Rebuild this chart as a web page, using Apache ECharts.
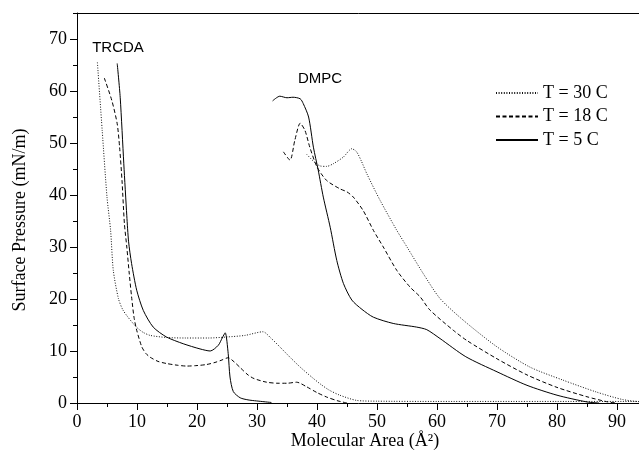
<!DOCTYPE html>
<html>
<head>
<meta charset="utf-8">
<script src="https://cdn.jsdelivr.net/npm/echarts@6/dist/echarts.min.js"></script>
<style>
  html, body { margin: 0; padding: 0; background: #fff; }
  #chart { width: 639px; height: 457px; }
</style>
</head>
<body>
<div id="chart"></div>
<script>
// isotherm data, [area, pressure]

const legendNames = ['T = 30 C', 'T = 18 C', 'T = 5 C']

const trcda30 = [[3.4,65.5],[4.2,52.4],[5.0,39.6],[5.6,33.2],[6.05,25.5],[6.9,20.1],[7.6,18],[8.5,16.5],[9.9,14.6],[11,13.6],[12.2,13.0],[14.9,12.6],[18,12.5],[22,12.5],[25,12.7],[28,13.0],[31,13.7],[32.3,12.5],[33.8,10.8],[35.5,8.8],[37.2,6.9],[39,5.1],[40.5,3.7],[42,2.5],[43.8,1.5],[46.6,0.5],[50,0.35],[60,0.3],[70,0.3],[80,0.3],[95,0.3]]
const trcda18 = [[4.55,62.5],[5.8,58.2],[6.7,53.7],[7.1,49.2],[7.5,42.8],[7.9,34.5],[8.3,30],[8.7,25],[9.1,20.4],[9.5,16.5],[9.95,14],[10.8,10.8],[11.5,9.5],[12.2,8.8],[13.5,8.0],[14.9,7.6],[16.5,7.3],[18.3,7.1],[20,7.2],[21.6,7.4],[23,7.8],[24,8.2],[25.2,8.7],[26.2,7.9],[27.2,6.8],[28.5,5.4],[29.5,4.7],[31.6,4.0],[33.5,3.8],[35,3.8],[36.6,4.0],[38.3,3.1],[40,2.0],[41.6,1.15],[43.5,0.4],[45,0]]
const trcda5 = [[6.7,65.3],[7.2,58.8],[7.8,46],[8.3,36],[8.6,31],[9.1,26.8],[9.95,21.7],[11.05,17.8],[12.7,14.6],[14.9,12.7],[17.7,11.4],[20.5,10.4],[22.2,10.0],[23.55,11.1],[24.2,12.5],[24.7,13.5],[25.2,9.5],[25.5,5.0],[26.05,2.2],[27.2,1.0],[28.5,0.6],[29.9,0.4],[32.4,0.1]]

const dmpc30 = [[38.3,47.8],[39.5,46.4],[40.5,45.6],[41.6,45.5],[42.7,46],[44.4,47.3],[45.8,48.9],[46.6,48.3],[47.4,46.5],[48.3,44.1],[50.5,39],[53.3,33.2],[55,30],[57.7,24.9],[60.5,20.1],[64.4,15.9],[70,10.8],[75.5,6.9],[81,4.4],[86.6,2.1],[91,0.65],[95,0.1]]
const dmpc18 = [[34.4,48.3],[35.5,46.7],[36.3,50.5],[37.2,53.8],[38,52.4],[38.8,49.2],[40,45.4],[41.6,42.8],[43.8,41.2],[45,40.6],[46.05,39.6],[47.7,37],[49.4,33.2],[51.05,30.0],[53.3,25.5],[55.5,22.3],[57.2,20.4],[58.8,17.9],[62.7,14],[65,12],[70,8.5],[75,5.4],[80,3.0],[85,1.2],[88.5,0.2],[90,0]]
const dmpc5 = [[32.6,58.1],[33.8,59.0],[35,58.7],[36,58.8],[37.2,58.5],[37.7,57.6],[38.6,55],[39.4,49.2],[40.2,44.8],[41.05,39.6],[42.2,33.8],[43.3,27.4],[44.4,23.0],[45.8,19.8],[47.5,18],[49.4,16.5],[52.7,15.3],[56.6,14.6],[58.3,14.1],[60.5,12.4],[64.8,8.9],[70,6.0],[75,3.4],[80,1.5],[85,0.2],[87,0]]

const yTicks = [0, 10, 20, 30, 40, 50, 60, 70]
const yMinorTicks = [5, 15, 25, 35, 45, 55, 65, 75]

const SERIF = '"Liberation Serif", "Times New Roman", serif'
const SANS = '"Liberation Sans", Arial, sans-serif'

const styles = {
  'T = 30 C': { color: '#111', width: 1, type: [1, 1.6] },
  'T = 18 C': { color: '#000', width: 1, type: [4, 2.5] },
  'T = 5 C':  { color: '#000', width: 1, type: 'solid' }
}

const makeSeries = (name, data) => ({
  name,
  type: 'line',
  data,
  symbol: 'none',
  smooth: 0.25,
  lineStyle: styles[name],
  itemStyle: { color: styles[name].color },
  animation: false,
  silent: true
})

const chart = echarts.init(document.getElementById('chart'))

chart.setOption({
  backgroundColor: '#fff',
  animation: false,
  grid: { left: 77, top: 13, width: 600, height: 390, outerBoundsMode: 'none', containLabel: false },
  legend: {
    data: legendNames,
    orient: 'vertical',
    left: 490,
    top: 79,
    itemWidth: 42,
    itemHeight: 14,
    itemGap: 5.5,
    itemStyle: { opacity: 0 },
    textStyle: { fontFamily: SERIF, fontSize: 18, color: '#000', lineHeight: 18 }
  },
  xAxis: [
    {
      type: 'value', min: 0, max: 100, interval: 10, position: 'bottom',
      axisLine: { onZero: false, lineStyle: { color: '#000', width: 1 } },
      axisTick: { inside: false, length: 7, lineStyle: { color: '#000' } },
      minorTick: { show: true, splitNumber: 2, length: 4, lineStyle: { color: '#000' } },
      axisLabel: { color: '#000', fontFamily: SERIF, fontSize: 18, margin: 10, showMaxLabel: false },
      splitLine: { show: false }
    },
    {
      type: 'value', min: 0, max: 100, position: 'top',
      axisLine: { onZero: false, lineStyle: { color: '#000', width: 1 } },
      axisTick: { show: false },
      axisLabel: { show: false },
      splitLine: { show: false }
    }
  ],
  yAxis: [
    {
      type: 'value', min: 0, max: 75, interval: 10, position: 'left',
      axisLine: { show: true, onZero: false, lineStyle: { color: '#000', width: 1 } },
      axisTick: { show: true, length: 7, customValues: yTicks, lineStyle: { color: '#000' } },
      axisLabel: { color: '#000', fontFamily: SERIF, fontSize: 18, margin: 10, customValues: yTicks },
      splitLine: { show: false }
    },
    {
      type: 'value', min: 0, max: 75, interval: 5, position: 'left',
      axisLine: { show: false, onZero: false },
      axisTick: { show: true, length: 4, customValues: yMinorTicks, lineStyle: { color: '#000' } },
      axisLabel: { show: false },
      splitLine: { show: false }
    }
  ],
  graphic: [
    { type: 'text', x: 118, y: 48, style: { text: 'TRCDA', font: '15px ' + SANS, fill: '#000', textAlign: 'center', textVerticalAlign: 'middle' } },
    { type: 'text', x: 320, y: 79, style: { text: 'DMPC', font: '15px ' + SANS, fill: '#000', textAlign: 'center', textVerticalAlign: 'middle' } },
    { type: 'text', x: 365, y: 441, style: { text: 'Molecular Area (Å²)', font: '18px ' + SERIF, fill: '#000', textAlign: 'center', textVerticalAlign: 'middle' } },
    { type: 'text', x: 20, y: 220, rotation: Math.PI / 2, style: { text: 'Surface Pressure (mN/m)', font: '18px ' + SERIF, fill: '#000', textAlign: 'center', textVerticalAlign: 'middle' } }
  ],
  series: [
    makeSeries('T = 30 C', trcda30),
    makeSeries('T = 18 C', trcda18),
    makeSeries('T = 5 C', trcda5),
    makeSeries('T = 30 C', dmpc30),
    makeSeries('T = 18 C', dmpc18),
    makeSeries('T = 5 C', dmpc5)
  ]
})
</script>
</body>
</html>
